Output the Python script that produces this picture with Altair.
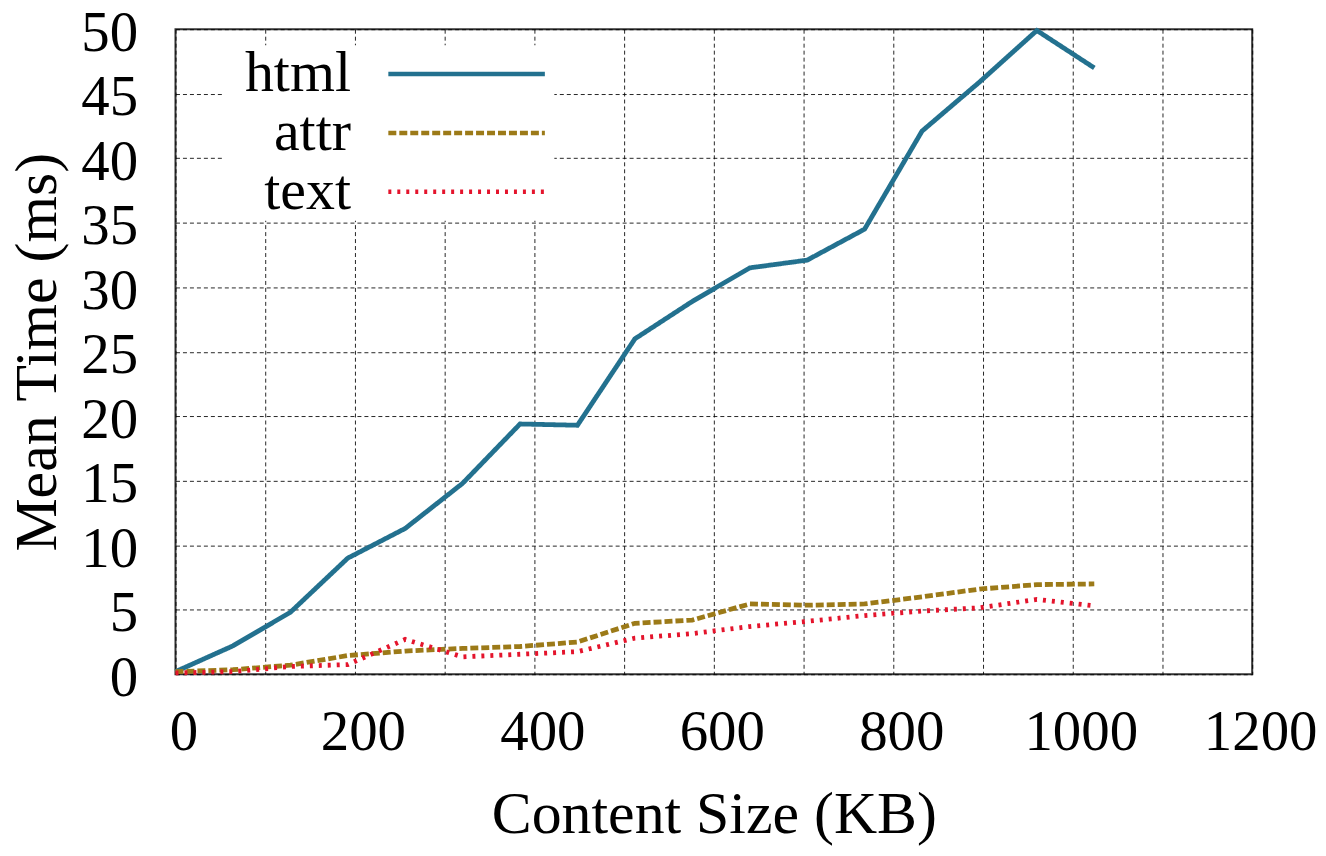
import altair as alt
import pandas as pd

sizes_kb = [0, 64, 128, 192, 256, 320, 384, 448, 512, 576, 640, 704, 768, 832, 896, 960, 1024]
html_ms = [0.2, 2.2, 4.8, 9.0, 11.3, 14.8, 19.4, 19.3, 26.0, 28.9, 31.5, 32.1, 34.5, 42.1, 45.9, 49.9, 47.0]
attr_ms = [0.2, 0.35, 0.7, 1.45, 1.8, 2.0, 2.15, 2.5, 3.95, 4.2, 5.45, 5.35, 5.45, 6.0, 6.6, 6.95, 7.0]
text_ms = [0.1, 0.2, 0.6, 0.75, 2.7, 1.35, 1.55, 1.75, 2.8, 3.15, 3.7, 4.1, 4.55, 4.9, 5.15, 5.8, 5.3]

series_names = ["html", "attr", "text"]
series_colors = ["#23718f", "#9c7a18", "#e4142c"]
series_dashes = [[1, 0], [8, 3], [3, 6]]

x_grid = list(range(0, 1300, 100))
y_grid = list(range(0, 55, 5))

rows = []
for name, vals in zip(series_names, [html_ms, attr_ms, text_ms]):
    for xv, yv in zip(sizes_kb, vals):
        rows.append({"series": name, "size": xv, "time": yv})
df = pd.DataFrame(rows)

FONT = "Liberation Serif"

chart = alt.Chart(df).mark_line(strokeWidth=4.8, strokeCap="butt").encode(
    x=alt.X("size:Q", title="Content Size (KB)",
            scale=alt.Scale(domain=[0, 1200], nice=False),
            axis=alt.Axis(values=x_grid, format="d", labelOverlap=False, labelFlush=False,
                          labelExpr="datum.value % 200 == 0 ? datum.label : ''",
                          labelPadding=30, labelOffset=8, titlePadding=26)),
    y=alt.Y("time:Q", title="Mean Time (ms)",
            scale=alt.Scale(domain=[0, 50], nice=False),
            axis=alt.Axis(values=y_grid, format="d", labelOverlap=False, labelFlush=False,
                          labelPadding=38, labelOffset=4, titlePadding=12)),
    color=alt.Color("series:N", sort=series_names,
                    scale=alt.Scale(domain=series_names, range=series_colors),
                    legend=alt.Legend(title=None, orient="none", legendX=47, legendY=16,
                                      symbolType="M-5,0H5", symbolSize=986,
                                      symbolStrokeWidth=4.5, symbolOffset=216,
                                      labelFontSize=58, labelFont=FONT, labelColor="black",
                                      labelAlign="right", labelOffset={"expr": "-145"},
                                      labelLimit=0,
                                      fillColor="white", padding=0, rowPadding=1)),
    strokeDash=alt.StrokeDash("series:N", sort=series_names,
                              scale=alt.Scale(domain=series_names, range=series_dashes),
                              legend=alt.Legend(title=None)),
).properties(
    width=1080, height=647,
    autosize=alt.AutoSizeParams(type="none"),
    padding={"left": 168, "top": 20, "right": 66, "bottom": 172},
).configure_view(
    stroke="#333333", strokeWidth=2
).configure_axis(
    labelFont=FONT, titleFont=FONT, labelFontSize=57, titleFontSize=60,
    labelColor="black", titleColor="black", titleFontWeight="normal",
    domain=False, ticks=False,
    grid=True, gridColor="black", gridDash=[4, 3], gridWidth=1, gridOpacity=0.85,
)

chart.save("out.html", embed_options={"renderer": "svg", "actions": False})
